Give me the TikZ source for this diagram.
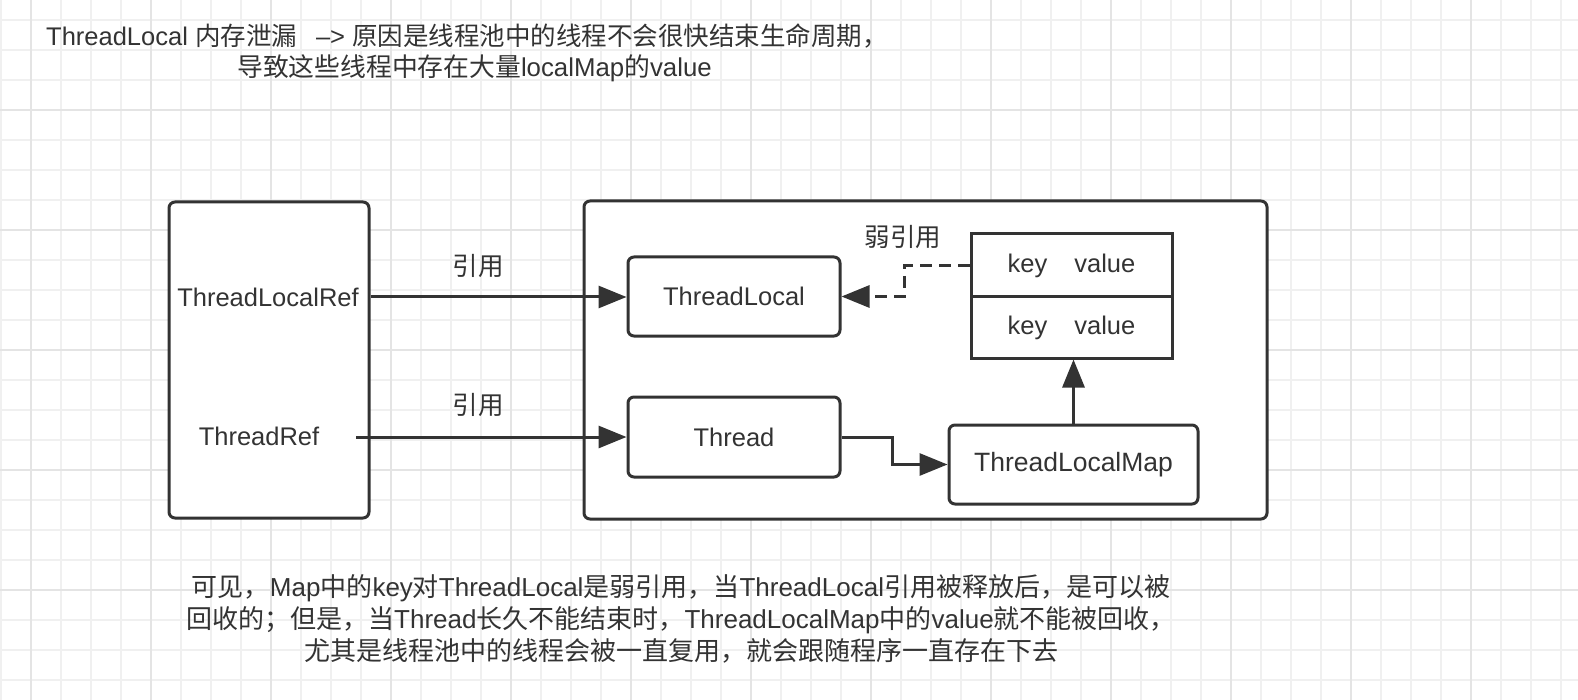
\documentclass[tikz,border=0pt]{standalone}
\usepackage{fontspec}
\setmainfont{Liberation Sans}
\newfontfamily\cjk{Noto Sans CJK SC}
\usetikzlibrary{arrows.meta}
\definecolor{ink}{HTML}{333333}
\definecolor{gridminor}{HTML}{F0F0F0}
\definecolor{gridmajor}{HTML}{E4E4E4}
\newcommand{\zh}[1]{{\cjk #1}}
\begin{document}
\begin{tikzpicture}[x=1pt,y=-1pt,
  txt/.style={text=ink,inner sep=0pt,font=\fontsize{25.5}{30}\selectfont},
  rbox/.style={draw=ink,line width=3pt,rounded corners=6pt,fill=white,text=ink,inner sep=0pt,font=\fontsize{25.5}{30}\selectfont},
  sbox/.style={draw=ink,line width=3pt,fill=white,text=ink,inner sep=0pt,font=\fontsize{25.5}{30}\selectfont},
  conn/.style={draw=ink,line width=3pt,-{Triangle[length=28pt,width=22pt]}},
  weak/.style={conn,dash pattern=on 12pt off 7pt},
  minorline/.style={draw=gridminor,line width=1.2pt},
  majorline/.style={draw=gridmajor,line width=2pt}]
\useasboundingbox (0,0) rectangle (1578,700);
\fill[white] (0,0) rectangle (1578,700);
% grid
\foreach \x in {1,31,...,1578} \draw[minorline] (\x,0) -- (\x,700);
\foreach \y in {20,50,...,700} \draw[minorline] (0,\y) -- (1578,\y);
\foreach \x in {31,151,...,1578} \draw[majorline] (\x,0) -- (\x,700);
\foreach \y in {110,230,...,700} \draw[majorline] (0,\y) -- (1578,\y);
% title
\node[txt,anchor=west] (title1) at (46,36) {ThreadLocal \zh{内存泄漏}\hspace{19pt}–> \zh{原因是线程池中的线程不会很快结束生命周期，}};
\node[txt,anchor=west,font=\fontsize{25.8}{30}\selectfont] (title2) at (237,68) {\zh{导致这些线程中存在大量}localMap\zh{的}value};
% containers
\node[rbox,minimum width=200pt,minimum height=316pt] (left) at (269,360) {};
\node[rbox,minimum width=683pt,minimum height=318pt] (right) at (925.5,360) {};
% left texts
\node[txt] (tlr) at (268,297) {ThreadLocalRef};
\node[txt] (tr) at (259,436) {ThreadRef};
\coordinate (trs) at (356,437);
% inner boxes
\node[rbox,minimum width=212pt,minimum height=79pt] (tl) at (734,296.5) {ThreadLocal};
\node[rbox,minimum width=212pt,minimum height=80pt] (th) at (734,437) {Thread};
\node[rbox,minimum width=249pt,minimum height=79pt,font=\fontsize{26.5}{30}\selectfont] (tlm) at (1073.5,464.5) {ThreadLocalMap};
\node[sbox,minimum width=201pt,minimum height=63pt] (kv1) at (1071.5,265.5) {key\hspace{27pt}value};
\node[sbox,minimum width=201pt,minimum height=61pt] (kv2) at (1071.5,327.5) {key\hspace{27pt}value};
% connectors
\draw[conn] (tlr.east -| left.east) -- (tl.west |- tlr.east);
\draw[conn] (trs) -- (th.west);
\node[txt] (ref1) at (478,266) {\zh{引用}};
\node[txt] (ref2) at (478,405) {\zh{引用}};
\coordinate (dk) at (904,296.5);
\draw[weak] (kv1.west) -| (dk) -- (tl.east);
\node[txt] (weaklbl) at (903,237) {\zh{弱引用}};
\coordinate (tk) at (892,437);
\draw[conn] (th.east) -- (tk) |- (tlm.west);
\draw[conn] (tlm.north) -- (tlm.north |- kv2.south);
% note
\node[txt,align=center,font=\fontsize{26}{32}\selectfont] (note) at (681,619) {\zh{可见，}Map\zh{中的}key\zh{对}ThreadLocal\zh{是弱引用，当}ThreadLocal\zh{引用被释放后，是可以被}\\
\zh{回收的；但是，当}Thread\zh{长久不能结束时，}ThreadLocalMap\zh{中的}value\zh{就不能被回收，}\\
\zh{尤其是线程池中的线程会被一直复用，就会跟随程序一直存在下去}};
\end{tikzpicture}
\end{document}
